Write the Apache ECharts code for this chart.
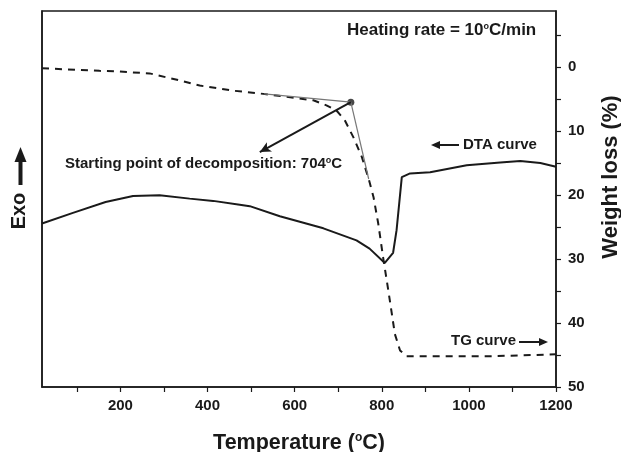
<!DOCTYPE html>
<html><head><meta charset="utf-8">
<script src="https://cdn.jsdelivr.net/npm/echarts@6/dist/echarts.min.js"></script>
<style>html,body{margin:0;padding:0;background:#fff}#c{width:621px;height:452px}</style>
</head><body><div id="c"></div>
<script>
// DTA curve (arbitrary units, left axis)
const dtaTemps  = [20, 91, 166, 229, 290, 359, 413, 474, 497, 566, 666, 742, 772, 807, 826, 834, 846, 865, 911, 995, 1072, 1118, 1164, 1200];
const dtaSignal = [43.5, 46.3, 49.2, 50.8, 51.0, 50.1, 49.5, 48.5, 48.1, 45.4, 42.2, 39.0, 36.8, 33.0, 35.7, 41.7, 55.8, 56.8, 57.1, 59.0, 59.7, 60.1, 59.6, 58.6];
// TG curve (weight loss %, right axis)
const tgTemps = [20, 152, 195, 267, 336, 382, 459, 528, 643, 673, 696, 715, 735, 754, 770, 781, 792, 803, 815, 823, 830, 842, 857, 1050, 1200];
const tgLoss  = [0.2, 0.6, 0.7, 1.0, 2.1, 2.9, 3.7, 4.2, 5.2, 6.0, 6.8, 8.3, 11, 14, 17.5, 20.3, 24.5, 29.7, 34.9, 38.5, 41.7, 44.3, 45.2, 45.2, 44.9];
// axis ticks
const xTickValues  = [100, 200, 300, 400, 500, 600, 700, 800, 900, 1000, 1100, 1200];
const xLabelValues = [200, 400, 600, 800, 1000, 1200];
const yTickValues  = [-5, 0, 5, 10, 15, 20, 25, 30, 35, 40, 45, 50];
const yLabelValues = [0, 10, 20, 30, 40, 50];
// annotation geometry (data units: temperature, weight loss)
const onsetPoint = [729, 5.5];
const tangentA = [[530, 4.2], [729, 5.5]];
const tangentB = [[729, 5.5], [770, 17.5]];
const pointerLine = [[729, 5.5], [520, 13.3]];

const FONT = "'Liberation Sans', Arial, sans-serif";
const INK = '#1a1a1a';

const chart = echarts.init(document.getElementById('c'), null, {renderer: 'canvas'});

const sup = {fontSize: 9, fontWeight: 'bold', fontFamily: FONT, color: INK, verticalAlign: 'top'};

function arrowGraphic(x1, x2, y, dir) {
  const tip = dir < 0 ? x1 : x2;
  const tail = dir < 0 ? x2 : x1;
  const base = tip - dir * 9;
  return [
    {type: 'line', shape: {x1: tail, y1: y, x2: base, y2: y}, style: {stroke: INK, lineWidth: 2}},
    {type: 'polygon', shape: {points: [[tip, y], [base, y - 4], [base, y + 4]]}, style: {fill: INK}}
  ];
}

const option = {
  animation: false,
  backgroundColor: '#fff',
  grid: {left: 42, right: 65, top: 11, bottom: 65, show: true, borderColor: INK, borderWidth: 1.5,
    containLabel: false, outerBoundsMode: 'none'},
  xAxis: {
    type: 'value', min: 20, max: 1200,
    axisLine: {show: true, onZero: false, lineStyle: {color: INK, width: 1.5}},
    axisTick: {show: true, inside: false, length: 5, customValues: xTickValues, lineStyle: {color: INK, width: 1.2}},
    axisLabel: {show: true, customValues: xLabelValues, margin: 11, fontSize: 15, fontWeight: 'bold', fontFamily: FONT, color: INK,
      formatter: v => String(v)},
    splitLine: {show: false},
    name: 'Temperature ({s|o}C)', nameLocation: 'middle', nameGap: 45,
    nameTextStyle: {fontSize: 21.5, fontWeight: 'bold', fontFamily: FONT, color: INK,
      rich: {s: {fontSize: 12, fontWeight: 'bold', fontFamily: FONT, color: INK, verticalAlign: 'top'}}}
  },
  yAxis: [
    {
      type: 'value', min: 0, max: 100, position: 'left',
      axisLine: {show: true, onZero: false, lineStyle: {color: INK, width: 1.5}},
      axisTick: {show: false}, axisLabel: {show: false}, splitLine: {show: false}
    },
    {
      type: 'value', min: -8.75, max: 50, inverse: true, position: 'right',
      axisLine: {show: true, onZero: false, lineStyle: {color: INK, width: 1.5}},
      axisTick: {show: true, inside: false, length: 5, customValues: yTickValues, lineStyle: {color: INK, width: 1.2}},
      axisLabel: {show: true, customValues: yLabelValues, margin: 12, fontSize: 15, fontWeight: 'bold', fontFamily: FONT, color: INK,
        formatter: v => String(v)},
      splitLine: {show: false}
    }
  ],
  series: [
    {
      name: 'DTA', type: 'line', yAxisIndex: 0, showSymbol: false, symbol: 'none',
      data: dtaTemps.map((t, i) => [t, dtaSignal[i]]),
      lineStyle: {color: INK, width: 2}
    },
    {
      name: 'TG', type: 'line', yAxisIndex: 1, showSymbol: false, symbol: 'none',
      data: tgTemps.map((t, i) => [t, tgLoss[i]]),
      lineStyle: {color: INK, width: 2, type: [7, 6]},
      markLine: {
        silent: true, symbol: 'none', label: {show: false},
        lineStyle: {color: '#777', width: 1.2, type: 'solid'},
        data: [
          [{coord: tangentA[0]}, {coord: tangentA[1]}],
          [{coord: tangentB[0]}, {coord: tangentB[1]}]
        ]
      }
    },
    {
      name: 'onset', type: 'scatter', yAxisIndex: 1, symbol: 'circle', symbolSize: 7,
      itemStyle: {color: INK}, data: [onsetPoint],
      markLine: {
        silent: true, label: {show: false}, symbol: ['none', 'arrow'], symbolSize: [8, 11],
        lineStyle: {color: INK, width: 2, type: 'solid'},
        data: [[{coord: pointerLine[0]}, {coord: pointerLine[1]}]]
      }
    }
  ],
  graphic: [
    {type: 'text', left: 347, top: 22, style: {text: 'Heating rate = 10{s|o}C/min', font: 'bold 17px ' + FONT, fill: INK, rich: {s: sup}}},
    {type: 'text', left: 65, top: 156, style: {text: 'Starting point of decomposition: 704{s|o}C', font: 'bold 15px ' + FONT, fill: INK, rich: {s: sup}}},
    {type: 'text', left: 463, top: 137, style: {text: 'DTA curve', font: 'bold 15px ' + FONT, fill: INK}},
    {type: 'text', left: 451, top: 333, style: {text: 'TG curve', font: 'bold 15px ' + FONT, fill: INK}},
    ...arrowGraphic(431, 459, 145, -1),
    ...arrowGraphic(519, 548, 342, 1),
    {type: 'text', x: 611, y: 177, rotation: Math.PI / 2,
      style: {text: 'Weight loss (%)', font: 'bold 22px ' + FONT, fill: INK, align: 'center', verticalAlign: 'middle'}},
    {type: 'text', x: 19, y: 211, rotation: Math.PI / 2,
      style: {text: 'Exo', font: 'bold 20px ' + FONT, fill: INK, align: 'center', verticalAlign: 'middle'}},
    {type: 'rect', shape: {x: 18.5, y: 160, width: 4, height: 25}, style: {fill: INK}},
    {type: 'polygon', shape: {points: [[20.5, 147], [14.5, 162], [26.5, 162]]}, style: {fill: INK}}
  ]
};
chart.setOption(option);
</script>
</body></html>
